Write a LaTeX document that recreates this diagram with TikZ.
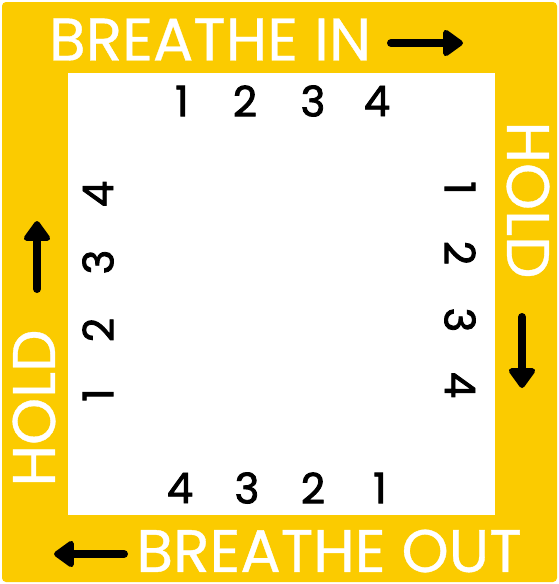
\documentclass[tikz,border=0pt]{standalone}
\usepackage{fontspec}
\setmainfont{Poppins}
\newfontfamily\fontscritte[FakeBold=0.6]{Poppins}
\newfontfamily\fontcifre[FakeBold=2]{Poppins}
\usetikzlibrary{arrows.meta}
\definecolor{giallo}{RGB}{251,203,0}
\tikzset{
  scritta/.style={text=white, font=\fontscritte\fontsize{60}{60}\selectfont, inner sep=0pt},
  cifra/.style={font=\fontcifre\fontsize{42}{42}\selectfont, inner sep=0pt},
  freccia/.style={line width=8pt, line cap=round, -{Triangle[length=22pt,width=30pt,round]}}
}
\begin{document}
\begin{tikzpicture}[x=1pt,y=-1pt]
        %disegno sfondo
        \useasboundingbox (0,0) rectangle (559,584);
        \fill[white] (0,0) rectangle (559,584);
        \fill[giallo, rounded corners=4pt] (2,2) rectangle (557,582);
        \fill[white] (68,73) rectangle (495,515);
        %disegno scritte
        \node[scritta] (inspira) at (210,39.5) {BREATHE IN};
        \node[scritta] (espira) at (329,551) {BREATHE OUT};
        \node[scritta, rotate=-90] (pausadx) at (528,200) {HOLD};
        \node[scritta, rotate=90] (pausasx) at (34,408) {HOLD};
        %disegno frecce
        \coordinate (inA) at (391,43);
        \coordinate (inB) at (463,43);
        \coordinate (dxA) at (522,317);
        \coordinate (dxB) at (522,388);
        \coordinate (outA) at (124,554);
        \coordinate (outB) at (54,554);
        \coordinate (sxA) at (37,289);
        \coordinate (sxB) at (37,221);
        \draw[freccia] (inA) -- (inB);
        \draw[freccia] (dxA) -- (dxB);
        \draw[freccia] (outA) -- (outB);
        \draw[freccia] (sxA) -- (sxB);
        %disegno numeri in alto
        \node[cifra] (su1) at (182,101) {1};
        \node[cifra] (su2) at (245,101) {2};
        \node[cifra] (su3) at (313,101) {3};
        \node[cifra] (su4) at (377,101) {4};
        %disegno numeri a destra
        \node[cifra, rotate=-90] (dx1) at (460,188) {1};
        \node[cifra, rotate=-90] (dx2) at (460,253) {2};
        \node[cifra, rotate=-90] (dx3) at (460,320) {3};
        \node[cifra, rotate=-90] (dx4) at (460,385) {4};
        %disegno numeri in basso
        \node[cifra] (giu4) at (180,488) {4};
        \node[cifra] (giu3) at (247,488) {3};
        \node[cifra] (giu2) at (313,488) {2};
        \node[cifra] (giu1) at (380,488) {1};
        %disegno numeri a sinistra
        \node[cifra, rotate=90] (sx4) at (98,194) {4};
        \node[cifra, rotate=90] (sx3) at (98,262) {3};
        \node[cifra, rotate=90] (sx2) at (98,330) {2};
        \node[cifra, rotate=90] (sx1) at (98,395) {1};
    \end{tikzpicture}
\end{document}
